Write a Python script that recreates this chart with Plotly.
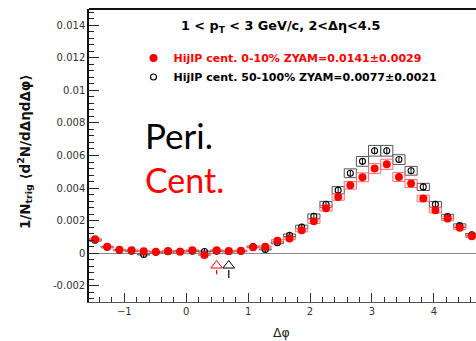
import math
import plotly.graph_objects as go

# Delta-phi binning: 32 bins of pi/16 over [-pi/2, 3pi/2)
n_bins = 32
bin_width = math.pi / 16
phi = [-math.pi / 2 + (i + 0.5) * bin_width for i in range(n_bins)]

# HIJING central (0-10%) per-trigger yields after ZYAM subtraction
cent_y = [0.00086, 0.00039, 0.00021, 0.00018, 0.00012, 0.00008, 0.00014, 0.00009,
          0.00018, -0.00012, 0.00018, 0.00014, 0.00015, 0.00037, 0.00040, 0.00077,
          0.00090, 0.00141, 0.00196, 0.00276, 0.00345, 0.00417, 0.00466, 0.00520,
          0.00546, 0.00468, 0.00428, 0.00336, 0.00264, 0.00213, 0.00156, 0.00104]
cent_stat = [0.00020, 0.00018, 0.00018, 0.00018, 0.00018, 0.00018, 0.00018, 0.00018,
             0.00018, 0.00018, 0.00018, 0.00018, 0.00018, 0.00018, 0.00018, 0.00019,
             0.00019, 0.00019, 0.00019, 0.00020, 0.00020, 0.00020, 0.00021, 0.00021,
             0.00021, 0.00021, 0.00020, 0.00020, 0.00020, 0.00019, 0.00019, 0.00019]
cent_sys = [0.00006, 0.00004, 0.00003, 0.00003, 0.00003, 0.00003, 0.00003, 0.00003,
            0.00003, 0.00003, 0.00003, 0.00003, 0.00003, 0.00004, 0.00004, 0.00006,
            0.00007, 0.00010, 0.00013, 0.00017, 0.00020, 0.00024, 0.00027, 0.00030,
            0.00031, 0.00027, 0.00025, 0.00020, 0.00017, 0.00014, 0.00011, 0.00008]

# HIJING peripheral (50-100%)
peri_y = [0.00080, 0.00037, 0.00018, 0.00012, -0.00008, 0.00006, 0.00009, 0.00012,
          0.00012, 0.00010, 0.00012, 0.00010, 0.00012, 0.00040, 0.00023, 0.00064,
          0.00110, 0.00161, 0.00227, 0.00300, 0.00387, 0.00491, 0.00564, 0.00629,
          0.00629, 0.00575, 0.00506, 0.00407, 0.00300, 0.00225, 0.00169, 0.00113]
peri_stat = [0.00020, 0.00018, 0.00018, 0.00018, 0.00018, 0.00018, 0.00018, 0.00018,
             0.00018, 0.00018, 0.00018, 0.00018, 0.00018, 0.00018, 0.00018, 0.00019,
             0.00019, 0.00019, 0.00020, 0.00020, 0.00020, 0.00021, 0.00021, 0.00022,
             0.00022, 0.00021, 0.00021, 0.00020, 0.00020, 0.00019, 0.00019, 0.00019]
peri_sys = [0.00006, 0.00004, 0.00003, 0.00003, 0.00003, 0.00003, 0.00003, 0.00003,
            0.00003, 0.00003, 0.00003, 0.00003, 0.00003, 0.00004, 0.00003, 0.00006,
            0.00008, 0.00011, 0.00014, 0.00018, 0.00022, 0.00027, 0.00030, 0.00033,
            0.00033, 0.00030, 0.00027, 0.00022, 0.00018, 0.00014, 0.00011, 0.00008]

# ZYAM minimum positions (arrows) : central, peripheral
zyam_phi = [phi[10], phi[11]]
arrow_tip = [-0.00076, -0.00076]
arrow_base = [-0.00104, -0.00104]
arrow_end = [-0.00130, -0.00152]

x_ticks = [-1, 0, 1, 2, 3, 4]
y_ticks = [-0.002, 0, 0.002, 0.004, 0.006, 0.008, 0.01, 0.012, 0.014]
y_tick_text = ["-0.002", "0", "0.002", "0.004", "0.006", "0.008", "0.01", "0.012", "0.014"]

RED = "#ff0000"
BLACK = "#000000"


def box_path(xc, yc, half):
    xs, ys = [], []
    for x, y, h in zip(xc, yc, half):
        x0, x1 = x - bin_width / 2, x + bin_width / 2
        xs += [x0, x1, x1, x0, x0, None]
        ys += [y - h, y - h, y + h, y + h, y - h, None]
    return xs, ys


fig = go.Figure()

# systematic boxes
bx, by = box_path(phi, peri_y, peri_sys)
fig.add_trace(go.Scatter(x=bx, y=by, mode="lines", line=dict(color="#555555", width=1),
                         showlegend=False, hoverinfo="skip"))
bx, by = box_path(phi, cent_y, cent_sys)
fig.add_trace(go.Scatter(x=bx, y=by, mode="lines", line=dict(color="#ff6a6a", width=1),
                         showlegend=False, hoverinfo="skip"))

# data points: peripheral first so central markers sit on top
fig.add_trace(go.Scatter(
    x=phi, y=peri_y, mode="markers",
    marker=dict(symbol="circle-open", size=6, color=BLACK, line=dict(width=1.1)),
    error_y=dict(type="data", array=peri_stat, color=BLACK, thickness=1, width=0),
    name="<b>HijIP cent. 50-100% ZYAM=0.0077±0.0021</b>",
))
fig.add_trace(go.Scatter(
    x=phi, y=cent_y, mode="markers",
    marker=dict(symbol="circle", size=8, color=RED),
    error_y=dict(type="data", array=cent_stat, color=RED, thickness=1.2, width=0),
    name="<b><span style='color:#ff0000'>HijIP cent. 0-10% ZYAM=0.0141±0.0029</span></b>",
))

# ZYAM arrows
for xp, tip, base, end, col in zip(zyam_phi, arrow_tip, arrow_base, arrow_end, [RED, BLACK]):
    fig.add_trace(go.Scatter(x=[xp, xp], y=[base, end], mode="lines",
                             line=dict(color=col, width=1.2), showlegend=False, hoverinfo="skip"))
    fig.add_trace(go.Scatter(x=[xp], y=[tip], mode="markers",
                             marker=dict(symbol="triangle-up-open", size=10, color=col,
                                         line=dict(width=1)),
                             showlegend=False, hoverinfo="skip"))

fig.update_layout(
    width=476, height=341,
    margin=dict(l=89, r=0, t=9, b=39),
    paper_bgcolor="white", plot_bgcolor="white",
    font=dict(family="DejaVu Sans", size=10, color="#333333"),
    showlegend=True,
    legend=dict(x=0.115, y=0.882, xanchor="left", yanchor="top",
                bgcolor="rgba(0,0,0,0)", font=dict(size=11, color=BLACK),
                traceorder="reversed", itemwidth=30),
    xaxis=dict(range=[-math.pi / 2, 4.681], tickvals=x_ticks, ticks="inside", ticklen=9,
               tickcolor="#333333", showline=True, linecolor="#555555", linewidth=1.2,
               showgrid=False, zeroline=False,
               minor=dict(dtick=0.2, tick0=0, ticks="inside", ticklen=5, tickcolor="#333333")),
    yaxis=dict(range=[-0.003, 0.015], tickvals=y_ticks, ticktext=y_tick_text,
               ticks="inside", ticklen=10, tickcolor="#222222",
               showline=True, linecolor="#111111", linewidth=1.5, showgrid=False,
               zeroline=True, zerolinecolor="#888888", zerolinewidth=1,
               minor=dict(dtick=0.0004, tick0=0, ticks="inside", ticklen=5, tickcolor="#222222")),
    shapes=[dict(type="line", xref="paper", yref="paper", x0=0, x1=1, y0=1, y1=1,
                 line=dict(color="#111111", width=2))],
)

annotations = [
    dict(text="<b>1 &lt; p<sub>T</sub> &lt; 3 GeV/c, 2&lt;Δη&lt;4.5</b>", x=0.497, y=0.9386,
         xanchor="center", yanchor="middle", font=dict(size=12.8, color=BLACK)),
    dict(text="Peri.", x=0.1395, y=0.570, xanchor="left", yanchor="middle",
         font=dict(family="Lato", size=35, color=BLACK)),
    dict(text="Cent.", x=0.1395, y=0.4164, xanchor="left", yanchor="middle",
         font=dict(family="Lato", size=34, color=RED)),
    dict(text="Δφ", x=0.4987, y=-0.1058, xanchor="center", yanchor="middle",
         font=dict(size=12.5, color="#222222")),
    dict(text="<b>1/N<sub>trig</sub> ⟨d<sup>2</sup>N/dΔηdΔφ⟩</b>", x=-0.1654, y=0.515,
         xanchor="center", yanchor="middle", textangle=-90,
         font=dict(size=13.5, color="#111111")),
]
for a in annotations:
    a.update(xref="paper", yref="paper", showarrow=False)
fig.update_layout(annotations=annotations)

fig.write_html("out.html")
